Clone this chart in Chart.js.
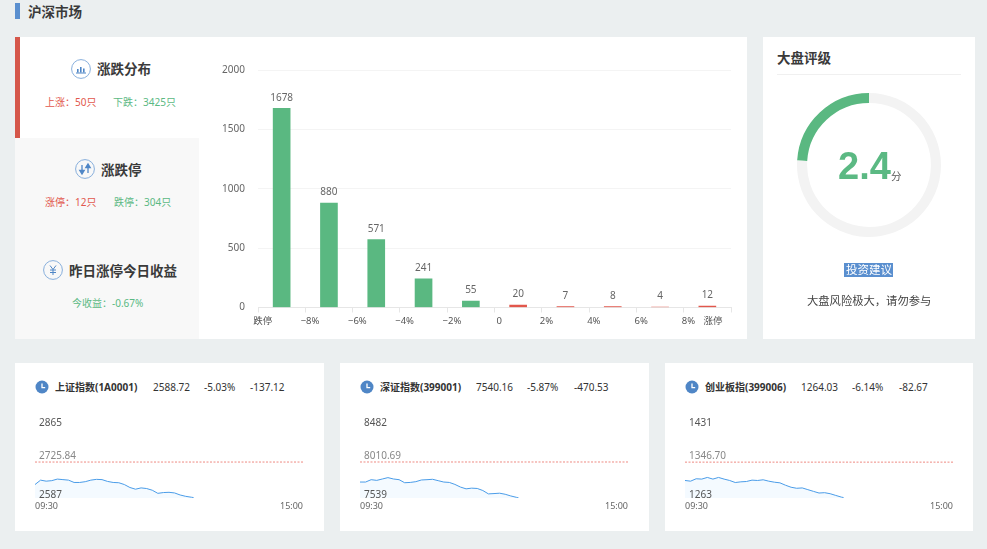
<!DOCTYPE html>
<html lang="zh">
<head>
<meta charset="utf-8">
<script src="https://cdn.jsdelivr.net/npm/chart.js@4"></script>
<style>
html,body{margin:0;padding:0;width:987px;height:549px;overflow:hidden;background:#ebeff0;font-family:"Noto Sans","Noto Sans CJK SC",sans-serif;color:#333}
.a{position:absolute;white-space:nowrap;line-height:1}
.box{position:absolute;background:#fff}
.t{font-size:13.5px;font-weight:700;color:#3a3a3a}
.s{font-size:10px}
.r{color:#e2574c}.g{color:#5bb983}
.h{font-size:10px;color:#333}
.cw{position:absolute}
svg{position:absolute}
</style>
</head>
<body>
<div class="box" style="left:15px;top:3px;width:5px;height:16px;background:#5a8fcf"></div>
<div class="a" style="left:28px;top:6px;font-size:13.5px;font-weight:700;color:#3a3a3a">沪深市场</div>

<div class="box" style="left:15px;top:37px;width:732px;height:302px"></div>
<div class="box" style="left:15px;top:37px;width:5px;height:101px;background:#d5574a"></div>
<div class="box" style="left:15px;top:138px;width:184px;height:201px;background:#f8f8f8"></div>

<svg style="left:71px;top:59px" width="20" height="20" viewBox="0 0 20 20"><circle cx="10" cy="10" r="9.4" fill="none" stroke="#7ba6d8" stroke-width="0.9"/><path d="M5 14h10" stroke="#4f86c6"/><path d="M6 10h1.6v3.4H6zM9 8h1.6v5.4H9zM12 9.5h1.6v3.9H12z" fill="#4f86c6"/></svg>
<div class="a t" style="left:97px;top:63px">涨跌分布</div>
<div class="a s r" style="left:45px;top:97px">上涨：50只</div>
<div class="a s g" style="left:113px;top:97px">下跌：3425只</div>

<svg style="left:75px;top:159px" width="20" height="20" viewBox="0 0 20 20"><circle cx="10" cy="10" r="9.4" fill="none" stroke="#7ba6d8" stroke-width="0.9"/><path d="M7 6v6M4.8 11.5H9.2L7 15zM13 14V8M10.8 8.5h4.4L13 5z" fill="#4f86c6" stroke="#4f86c6" stroke-width="1.3"/></svg>
<div class="a t" style="left:101px;top:164px">涨跌停</div>
<div class="a s r" style="left:45px;top:197px">涨停：12只</div>
<div class="a s g" style="left:114px;top:197px">跌停：304只</div>

<svg style="left:43px;top:260px" width="20" height="20" viewBox="0 0 20 20"><circle cx="10" cy="10" r="9.4" fill="none" stroke="#7ba6d8" stroke-width="0.9"/><path d="M7 5.5l3 4 3-4M10 9.5v5.5M7 10h6M7 12.5h6" fill="none" stroke="#4f86c6" stroke-width="1"/></svg>
<div class="a t" style="left:69px;top:265px">昨日涨停今日收益</div>
<div class="a s g" style="left:72px;top:298px">今收益：-0.67%</div>

<div class="cw" style="left:200px;top:50px;width:540px;height:285px"><canvas id="dist"></canvas></div>

<div class="box" style="left:763px;top:37px;width:212px;height:302px"></div>
<div class="a t" style="left:777px;top:52px">大盘评级</div>
<div class="box" style="left:777px;top:74px;width:184px;height:1px;background:#f0f0f0"></div>
<div class="cw" style="left:789px;top:85px;width:160px;height:160px"><canvas id="gauge"></canvas></div>
<div class="a" style="left:838px;top:147px;font-size:38px;font-weight:700;color:#5bb983;font-family:'Liberation Sans',sans-serif">2.4</div>
<div class="a" style="left:891px;top:171px;font-size:10.5px;color:#555">分</div>
<div class="box" style="left:844px;top:263px;width:49px;height:14px;background:#5a8fcf"></div>
<div class="a" style="left:846px;top:264px;font-size:11.5px;color:#fff">投资建议</div>
<div class="a" style="left:807px;top:295px;font-size:11.3px;color:#444">大盘风险极大，请勿参与</div>

<div class="box" style="left:15px;top:363px;width:309px;height:168px"></div>
<svg style="left:35px;top:380px" width="14" height="14" viewBox="0 0 14 14"><circle cx="7" cy="7" r="6.5" fill="#4f86c6"/><path d="M7 3.5V7.6H10.2" fill="none" stroke="#fff" stroke-width="1.3"/></svg>
<div class="a h" style="left:55px;top:382px;font-weight:700">上证指数(1A0001)</div>
<div class="a h" style="left:153px;top:382px">2588.72</div>
<div class="a h" style="left:204px;top:382px">-5.03%</div>
<div class="a h" style="left:250px;top:382px">-137.12</div>
<div class="cw" style="left:25px;top:416px;width:288px;height:100px"><canvas id="sh"></canvas></div>

<div class="box" style="left:340px;top:363px;width:309px;height:168px"></div>
<svg style="left:360px;top:380px" width="14" height="14" viewBox="0 0 14 14"><circle cx="7" cy="7" r="6.5" fill="#4f86c6"/><path d="M7 3.5V7.6H10.2" fill="none" stroke="#fff" stroke-width="1.3"/></svg>
<div class="a h" style="left:380px;top:382px;font-weight:700">深证指数(399001)</div>
<div class="a h" style="left:476px;top:382px">7540.16</div>
<div class="a h" style="left:527px;top:382px">-5.87%</div>
<div class="a h" style="left:574px;top:382px">-470.53</div>
<div class="cw" style="left:350px;top:416px;width:288px;height:100px"><canvas id="sz"></canvas></div>

<div class="box" style="left:665px;top:363px;width:308px;height:168px"></div>
<svg style="left:685px;top:380px" width="14" height="14" viewBox="0 0 14 14"><circle cx="7" cy="7" r="6.5" fill="#4f86c6"/><path d="M7 3.5V7.6H10.2" fill="none" stroke="#fff" stroke-width="1.3"/></svg>
<div class="a h" style="left:705px;top:382px;font-weight:700">创业板指(399006)</div>
<div class="a h" style="left:801px;top:382px">1264.03</div>
<div class="a h" style="left:852px;top:382px">-6.14%</div>
<div class="a h" style="left:899px;top:382px">-82.67</div>
<div class="cw" style="left:675px;top:416px;width:288px;height:100px"><canvas id="cy"></canvas></div>

<script>
const FONT = '"Noto Sans","Noto Sans CJK SC",sans-serif';
const bucketNames = ['跌停','-8%','-6%','-4%','-2%','0','2%','4%','6%','8%'];
const bucketCounts = [1678,880,571,241,55,20,7,8,4,12];
const bucketColors = ['#5ab881','#5ab881','#5ab881','#5ab881','#5ab881','#e2574c','#e2574c','#e2574c','#e2574c','#e2574c'];
const axisLabels = ['跌停','−8%','−6%','−4%','−2%','0','2%','4%','6%','8%','涨停'];
const axisLabelAt = [0.1,1.1,2.1,3.1,4.1,5.1,6.1,7.1,8.1,9.1,9.62];
const ratingScore = [2.4, 7.6];

const minutes = [0,5,10,15,20,25,30,35,40,45,50,55,60,65,70,75,80,85,90,95,100,105,110,115,120,125,130,135,140,142];
const shValues = [2639,2656,2652,2654,2660,2658,2656,2647,2647,2650,2656,2659,2658,2651,2647,2646,2639,2627.5,2621,2626,2623.5,2617,2605,2608,2609,2606.5,2598.6,2593.4,2590,2588.72];
const szValues = [7748,7748,7779,7770,7788,7806,7788,7779,7739,7743,7753,7775,7779,7784,7766,7748,7743,7717,7682,7659,7668,7664,7637,7593,7597,7602,7588,7566,7548,7540.16];
const cyValues = [1303.9,1302.3,1307.9,1307.1,1311,1307.1,1311,1307.1,1303.9,1299.1,1300.7,1301.5,1304.7,1303.9,1305.5,1302.3,1299.9,1298.4,1292.8,1288.1,1285.7,1286.5,1282.5,1278.5,1274.6,1275.4,1273,1269,1265.1,1264.03];
const shRange = [2587, 2725.84, 2865];
const szRange = [7539, 8010.69, 8482];
const cyRange = [1263, 1346.70, 1431];
const timeLabels = ['09:30','15:00'];

const valueLabels = {
  id:'valueLabels',
  afterDatasetsDraw(c){
    const ctx=c.ctx, meta=c.getDatasetMeta(0);
    ctx.save();
    ctx.font='10px '+FONT; ctx.fillStyle='#666'; ctx.textAlign='center'; ctx.textBaseline='middle';
    meta.data.forEach((b,i)=>ctx.fillText(String(bucketCounts[i]), b.x, b.y-10.5));
    ctx.restore();
  }
};

new Chart(document.getElementById('dist'),{
  type:'bar',
  data:{labels:bucketNames,datasets:[{data:bucketCounts,backgroundColor:bucketColors,barThickness:17}]},
  plugins:[valueLabels],
  options:{
    responsive:true,maintainAspectRatio:false,animation:false,
    layout:{padding:{top:20,right:9,left:0,bottom:0}},
    plugins:{legend:{display:false},tooltip:{enabled:false}},
    scales:{
      y:{min:0,max:2000,afterFit(s){s.width=58},
        ticks:{stepSize:500,padding:13,color:'#666',font:{size:10,family:FONT},callback(v){return String(v)}},
        grid:{color:'#f4f4f4',drawTicks:false},border:{display:false}},
      x:{type:'category',offset:true,weight:0,afterFit(s){s.height=5},
        grid:{offset:true,drawOnChartArea:false,drawTicks:true,tickLength:5,color:'#e6e6e6'},
        border:{color:'#e6e6e6'},ticks:{display:false}},
      xTicks:{type:'linear',axis:'x',position:'bottom',offset:false,weight:1,min:0,max:10,afterFit(s){s.height=22.5},
        afterBuildTicks(s){s.ticks=axisLabelAt.map(v=>({value:v}))},
        grid:{display:false,drawTicks:false,offset:false},border:{display:false},
        ticks:{autoSkip:false,maxRotation:0,padding:3,color:'#555',font:{size:9.5,family:FONT},
          callback(v,i){return axisLabels[i]}}}
    }
  }
});

new Chart(document.getElementById('gauge'),{
  type:'doughnut',
  data:{datasets:[{data:ratingScore,backgroundColor:['#5ab881','#f3f3f3'],borderWidth:0}]},
  options:{responsive:true,maintainAspectRatio:false,animation:false,cutout:'86%',rotation:-86.4,
    layout:{padding:8},plugins:{legend:{display:false},tooltip:{enabled:false}}}
});

function mini(id,values,range){
  const [low,mid,high]=range;
  new Chart(document.getElementById(id),{
    type:'line',
    data:{datasets:[
      {data:minutes.map((m,i)=>({x:m,y:values[i]})),borderColor:'#4a9ce8',borderWidth:1,pointRadius:0,tension:0,fill:'start',backgroundColor:'#f4faff'},
      {data:[{x:0,y:mid},{x:240,y:mid}],borderColor:'#ee8a82',borderWidth:1,borderDash:[2,1.5],pointRadius:0,fill:false}
    ]},
    options:{
      responsive:true,maintainAspectRatio:false,animation:false,
      layout:{padding:{left:10,right:10,top:10,bottom:0}},
      plugins:{legend:{display:false},tooltip:{enabled:false}},
      scales:{
        x:{type:'linear',min:0,max:240,afterFit(s){s.height=18},
          afterBuildTicks(s){s.ticks=[{value:0},{value:240}]},
          grid:{display:false,drawTicks:false},border:{display:false},
          ticks:{align:'inner',autoSkip:false,maxRotation:0,padding:3,color:'#666',font:{size:9,family:FONT},
            callback(v,i){return timeLabels[i]}}},
        y:{min:low,max:high,afterFit(s){s.width=0},
          afterBuildTicks(s){s.ticks=[{value:low},{value:high}]},
          grid:{display:false,drawTicks:false},border:{display:false},
          ticks:{z:1,autoSkip:false,mirror:true,padding:4,labelOffset:-2.5,color:'#555',font:{size:10,family:FONT},
            callback(v){return String(v)}}},
        yMid:{type:'linear',axis:'y',position:'left',min:low,max:high,afterFit(s){s.width=0},
          afterBuildTicks(s){s.ticks=[{value:mid}]},
          grid:{display:false,drawTicks:false},border:{display:false},
          ticks:{z:1,autoSkip:false,mirror:true,padding:4,labelOffset:-6,color:'#888',font:{size:10,family:FONT},
            callback(v){return v.toFixed(2)}}}
      }
    }
  });
}
mini('sh',shValues,shRange);
mini('sz',szValues,szRange);
mini('cy',cyValues,cyRange);
</script>
</body>
</html>
